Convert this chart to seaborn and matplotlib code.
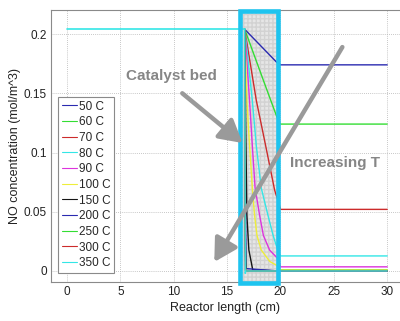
import matplotlib
matplotlib.use("Agg")
import matplotlib.pyplot as plt
from matplotlib.patches import Rectangle
import seaborn as sns
import pandas as pd

# Reactor temperatures and their line colours
temps = [50, 60, 70, 80, 90, 100, 150, 200, 250, 300, 350]
colors = ["#2a2ab0", "#33dd33", "#cc2b2b", "#33e6e6", "#dd33dd", "#eeee3a",
          "#151515", "#2a2ab0", "#33dd33", "#cc2b2b", "#33e6e6"]

# Feed section (before the catalyst bed), identical for every temperature
inlet_x = [0.0, 16.65]
inlet_c = 0.204

# Concentration profiles inside the catalyst bed (x in cm, c in mol/m^3)
bed_x_50 = [16.65, 19.6, 19.8]
bed_c_50 = [0.204, 0.1766, 0.1752]
bed_x_60 = [16.65, 18.6, 19.6, 19.8]
bed_c_60 = [0.204, 0.156, 0.1316, 0.127]
bed_x_70 = [16.65, 17.73, 18.6, 19.45, 19.6, 19.8]
bed_c_70 = [0.204, 0.1443, 0.1063, 0.0684, 0.064, 0.059]
bed_x_80 = [16.65, 17.36, 17.73, 18.2, 18.82, 19.3, 19.8]
bed_c_80 = [0.204, 0.1443, 0.1063, 0.070, 0.0473, 0.0304, 0.016]
bed_x_90 = [16.65, 17.1, 17.36, 17.62, 18.04, 18.4, 18.98, 19.8]
bed_c_90 = [0.204, 0.1443, 0.1063, 0.0705, 0.0473, 0.030, 0.0177, 0.010]
bed_x_100 = [16.65, 16.85, 17.1, 17.36, 17.57, 17.8, 18.2, 19.0, 19.8]
bed_c_100 = [0.204, 0.1443, 0.1063, 0.0705, 0.0473, 0.030, 0.0177, 0.008, 0.004]
bed_x_150 = [16.65, 16.75, 16.85, 17.04, 17.4, 19.8]
bed_c_150 = [0.204, 0.12, 0.0473, 0.0177, 0.001, 0.0]
bed_x_200 = [16.65, 16.72, 16.8, 19.8]
bed_c_200 = [0.204, 0.05, 0.002, 0.0]
bed_x_250 = [16.65, 16.7, 16.75, 19.8]
bed_c_250 = [0.204, 0.03, 0.0, 0.0]
bed_x_300 = [16.65, 16.68, 16.72, 19.8]
bed_c_300 = [0.204, 0.02, 0.0, 0.0]
bed_x_350 = [16.65, 16.7, 16.75, 19.8]
bed_c_350 = [0.204, -0.002, 0.0, 0.0]

# Outlet section (after the bed)
outlet_x = [20.0, 30.0]
outlet_c = [0.174, 0.124, 0.052, 0.0127, 0.0035, 0.001, 0.0, 0.0, 0.0005, 0.0, 0.0]

bed_x = [bed_x_50, bed_x_60, bed_x_70, bed_x_80, bed_x_90, bed_x_100,
         bed_x_150, bed_x_200, bed_x_250, bed_x_300, bed_x_350]
bed_c = [bed_c_50, bed_c_60, bed_c_70, bed_c_80, bed_c_90, bed_c_100,
         bed_c_150, bed_c_200, bed_c_250, bed_c_300, bed_c_350]

rows = []
for t, bx, bc, oc in zip(temps, bed_x, bed_c, outlet_c):
    label = f"{t} C"
    xs = bx + outlet_x
    cs = bc + [oc, oc]
    for x, c in zip(xs, cs):
        rows.append({"x": x, "c": c, "T": label})
df = pd.DataFrame(rows)
feed = pd.DataFrame({"x": inlet_x, "c": [inlet_c, inlet_c]})

sns.set_style("white")
plt.rcParams["font.family"] = ["Liberation Sans", "DejaVu Sans"]

fig = plt.figure(figsize=(4.0, 3.21), dpi=100)
ax = fig.add_axes([51 / 400, 1 - 282 / 321, 349 / 400, 272 / 321])

# Catalyst bed: hatched grey region with a thick cyan outline
bed_left, bed_right = 16.2, 19.76
bed_bottom, bed_top = -0.0101, 0.2198
ax.add_patch(Rectangle((bed_left, bed_bottom), bed_right - bed_left, bed_top - bed_bottom,
                       facecolor="#e6e6e6", edgecolor="#d2d2d2", hatch="++++",
                       linewidth=0, zorder=1.5))

sns.lineplot(data=df, x="x", y="c", hue="T", palette=colors, sort=False,
             estimator=None, linewidth=1.0, ax=ax, zorder=2)
# shared feed line (all temperatures overlap here; the last one is on top)
sns.lineplot(data=feed, x="x", y="c", color=colors[-1], linewidth=1.2,
             ax=ax, zorder=2.5, legend=False)

ax.add_patch(Rectangle((bed_left, bed_bottom), bed_right - bed_left, bed_top - bed_bottom,
                       facecolor="none", edgecolor="#1ec4ef", linewidth=3.3,
                       zorder=4, clip_on=False))

ax.set_xlim(-1.5, 31.2)
ax.set_ylim(-0.0093, 0.2203)
ax.set_xticks([0, 5, 10, 15, 20, 25, 30])
ax.set_yticks([0, 0.05, 0.1, 0.15, 0.2])
ax.set_yticklabels(["0", "0.05", "0.1", "0.15", "0.2"])
ax.tick_params(labelsize=8.5, colors="#222222", direction="in", length=2.5,
               width=0.6, pad=3)
ax.tick_params(axis="both", color="#888888")
ax.grid(True, linestyle=(0, (1, 1.5)), color="#b5b5b5", linewidth=0.6)
ax.set_axisbelow(True)
for side in ["left", "bottom", "top"]:
    ax.spines[side].set_color("#8a8a8a")
    ax.spines[side].set_linewidth(0.8)
ax.spines["right"].set_visible(False)

ax.set_xlabel("Reactor length (cm)", fontsize=9, color="#222222", labelpad=3)
ax.set_ylabel("NO concentration (mol/m^3)", fontsize=9, color="#222222", labelpad=2)

handles, labels = ax.get_legend_handles_labels()
leg = ax.legend(handles, labels, loc="lower left", bbox_to_anchor=(0.02, 0.034),
                borderaxespad=0, fontsize=8.5, handlelength=1.3, handletextpad=0.15,
                labelspacing=0.31, borderpad=0.3, fancybox=False, framealpha=1,
                edgecolor="#8a8a8a")
leg.get_frame().set_linewidth(0.8)
for line in leg.get_lines():
    line.set_linewidth(0.8)
leg.set_zorder(5)

arrow_grey = "#9a9a9a"
arrow_style = "-|>,head_length=0.8,head_width=0.45"
ax.annotate("", xy=(16.45, 0.108), xytext=(10.8, 0.150),
            arrowprops=dict(arrowstyle=arrow_style, color=arrow_grey, lw=3.2,
                            mutation_scale=17, shrinkA=0, shrinkB=0), zorder=6)
ax.text(9.77, 0.1646, "Catalyst bed", fontsize=11, fontweight="bold",
        color="#868686", ha="center", va="center", zorder=6)

ax.annotate("", xy=(13.8, 0.0076), xytext=(25.8, 0.189),
            arrowprops=dict(arrowstyle=arrow_style, color=arrow_grey, lw=3.2,
                            mutation_scale=17, shrinkA=0, shrinkB=0), zorder=6)
ax.text(25.07, 0.0911, "Increasing T", fontsize=11, fontweight="bold",
        color="#868686", ha="center", va="center", zorder=6)

fig.savefig("out.png", dpi=100)
